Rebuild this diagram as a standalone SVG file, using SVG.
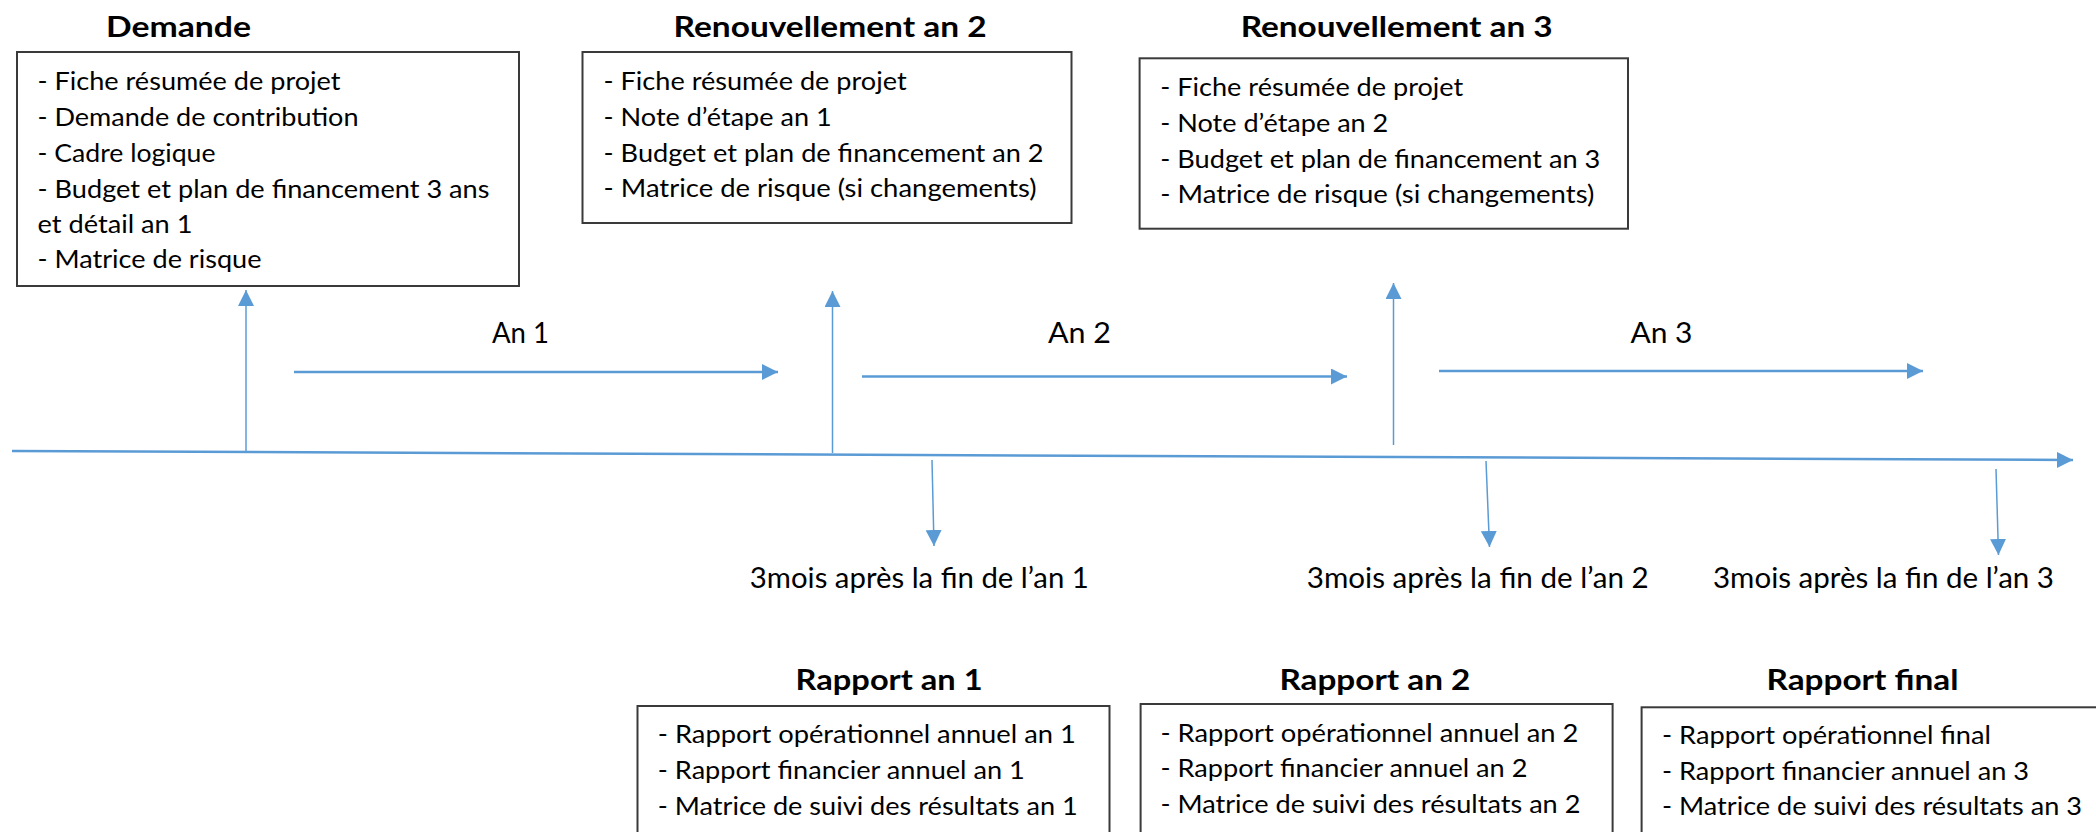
<svg xmlns="http://www.w3.org/2000/svg" width="2096" height="832" viewBox="0 0 2096 832">
<style>
.box{fill:#fff;stroke:#3a3a3a;stroke-width:2}
.t{font-family:Lato,"Liberation Sans",sans-serif;font-size:25.5px;fill:#000}
.h{font-family:Lato,"Liberation Sans",sans-serif;font-size:28px;font-weight:bold;fill:#000}
.l{font-family:Lato,"Liberation Sans",sans-serif;font-size:29px;fill:#000}
.c{stroke:#5B9BD5;fill:none}
</style>
<defs>
<marker id="ah" markerUnits="userSpaceOnUse" viewBox="0 0 16 16" refX="16" refY="8" markerWidth="16" markerHeight="16" orient="auto">
<path d="M0,0 L16,8 L0,16 z" fill="#5B9BD5"/>
</marker>
</defs>
<rect width="2096" height="832" fill="#fff"/>

<g id="connectors">
<line class="c" x1="12" y1="451" x2="2073" y2="460" stroke-width="2.5" marker-end="url(#ah)"/>
<line class="c" x1="246" y1="452" x2="246" y2="290" stroke-width="1.5" marker-end="url(#ah)"/>
<line class="c" x1="832.5" y1="453" x2="832.5" y2="291" stroke-width="1.5" marker-end="url(#ah)"/>
<line class="c" x1="1393.5" y1="445" x2="1393.5" y2="283" stroke-width="1.5" marker-end="url(#ah)"/>
<line class="c" x1="294" y1="372" x2="778" y2="372" stroke-width="2.5" marker-end="url(#ah)"/>
<line class="c" x1="862" y1="376.5" x2="1347" y2="376.5" stroke-width="2.5" marker-end="url(#ah)"/>
<line class="c" x1="1439" y1="371" x2="1923" y2="371" stroke-width="2.5" marker-end="url(#ah)"/>
<line class="c" x1="932" y1="460" x2="934" y2="546" stroke-width="1.5" marker-end="url(#ah)"/>
<line class="c" x1="1486" y1="461" x2="1489.5" y2="547" stroke-width="1.5" marker-end="url(#ah)"/>
<line class="c" x1="1996" y1="469" x2="1998.5" y2="555" stroke-width="1.5" marker-end="url(#ah)"/>
</g>

<g id="demande">
<text class="h" x="106" y="37" textLength="145" lengthAdjust="spacingAndGlyphs">Demande</text>
<rect class="box" x="17" y="52" width="502" height="234"/>
<text class="t" x="37.5" y="90" textLength="303" lengthAdjust="spacingAndGlyphs">- Fiche résumée de projet</text>
<text class="t" x="37.5" y="126" textLength="321" lengthAdjust="spacingAndGlyphs">- Demande de contribution</text>
<text class="t" x="37.5" y="162" textLength="178" lengthAdjust="spacingAndGlyphs">- Cadre logique</text>
<text class="t" x="37.5" y="198" textLength="452" lengthAdjust="spacingAndGlyphs">- Budget et plan de financement 3 ans</text>
<text class="t" x="37.5" y="233" textLength="155" lengthAdjust="spacingAndGlyphs">et détail an 1</text>
<text class="t" x="37.5" y="268" textLength="224" lengthAdjust="spacingAndGlyphs">- Matrice de risque</text>
</g>

<g id="renouvellement2">
<text class="h" x="673.6" y="37" textLength="313" lengthAdjust="spacingAndGlyphs">Renouvellement an 2</text>
<rect class="box" x="582.5" y="52" width="489" height="171"/>
<text class="t" x="603.6" y="90" textLength="303" lengthAdjust="spacingAndGlyphs">- Fiche résumée de projet</text>
<text class="t" x="603.6" y="126" textLength="228" lengthAdjust="spacingAndGlyphs">- Note d’étape an 1</text>
<text class="t" x="603.6" y="162" textLength="440" lengthAdjust="spacingAndGlyphs">- Budget et plan de financement an 2</text>
<text class="t" x="603.6" y="197" textLength="433" lengthAdjust="spacingAndGlyphs">- Matrice de risque (si changements)</text>
</g>

<g id="renouvellement3">
<text class="h" x="1240.7" y="37" textLength="312" lengthAdjust="spacingAndGlyphs">Renouvellement an 3</text>
<rect class="box" x="1139.6" y="58.3" width="488.4" height="170.4"/>
<text class="t" x="1160.3" y="96" textLength="303" lengthAdjust="spacingAndGlyphs">- Fiche résumée de projet</text>
<text class="t" x="1160.3" y="132" textLength="228" lengthAdjust="spacingAndGlyphs">- Note d’étape an 2</text>
<text class="t" x="1160.3" y="168" textLength="440" lengthAdjust="spacingAndGlyphs">- Budget et plan de financement an 3</text>
<text class="t" x="1160.3" y="203" textLength="434" lengthAdjust="spacingAndGlyphs">- Matrice de risque (si changements)</text>
</g>

<g id="labels-annees">
<text class="l" x="492" y="343" textLength="57" lengthAdjust="spacingAndGlyphs">An 1</text>
<text class="l" x="1048" y="343" textLength="63" lengthAdjust="spacingAndGlyphs">An 2</text>
<text class="l" x="1630.5" y="343" textLength="62" lengthAdjust="spacingAndGlyphs">An 3</text>
</g>

<g id="labels-delais">
<text class="l" x="749.8" y="588" textLength="339" lengthAdjust="spacingAndGlyphs">3mois après la fin de l’an 1</text>
<text class="l" x="1306.8" y="588" textLength="342" lengthAdjust="spacingAndGlyphs">3mois après la fin de l’an 2</text>
<text class="l" x="1713" y="588" textLength="341" lengthAdjust="spacingAndGlyphs">3mois après la fin de l’an 3</text>
</g>

<g id="rapport1">
<text class="h" x="795.6" y="690" textLength="187" lengthAdjust="spacingAndGlyphs">Rapport an 1</text>
<rect class="box" x="637.5" y="706" width="472" height="140"/>
<text class="t" x="657.8" y="743" textLength="418" lengthAdjust="spacingAndGlyphs">- Rapport opérationnel annuel an 1</text>
<text class="t" x="657.8" y="779" textLength="367" lengthAdjust="spacingAndGlyphs">- Rapport financier annuel an 1</text>
<text class="t" x="657.8" y="815" textLength="420" lengthAdjust="spacingAndGlyphs">- Matrice de suivi des résultats an 1</text>
</g>

<g id="rapport2">
<text class="h" x="1279.4" y="690" textLength="191" lengthAdjust="spacingAndGlyphs">Rapport an 2</text>
<rect class="box" x="1140.6" y="704" width="472" height="140"/>
<text class="t" x="1160.4" y="742" textLength="418" lengthAdjust="spacingAndGlyphs">- Rapport opérationnel annuel an 2</text>
<text class="t" x="1160.4" y="777" textLength="367" lengthAdjust="spacingAndGlyphs">- Rapport financier annuel an 2</text>
<text class="t" x="1160.4" y="813" textLength="420" lengthAdjust="spacingAndGlyphs">- Matrice de suivi des résultats an 2</text>
</g>

<g id="rapportfinal">
<text class="h" x="1766.5" y="690" textLength="192" lengthAdjust="spacingAndGlyphs">Rapport final</text>
<rect class="box" x="1641.6" y="707.3" width="480" height="140"/>
<text class="t" x="1662" y="744" textLength="329" lengthAdjust="spacingAndGlyphs">- Rapport opérationnel final</text>
<text class="t" x="1662" y="780" textLength="367" lengthAdjust="spacingAndGlyphs">- Rapport financier annuel an 3</text>
<text class="t" x="1662" y="815" textLength="420" lengthAdjust="spacingAndGlyphs">- Matrice de suivi des résultats an 3</text>
</g>
</svg>
